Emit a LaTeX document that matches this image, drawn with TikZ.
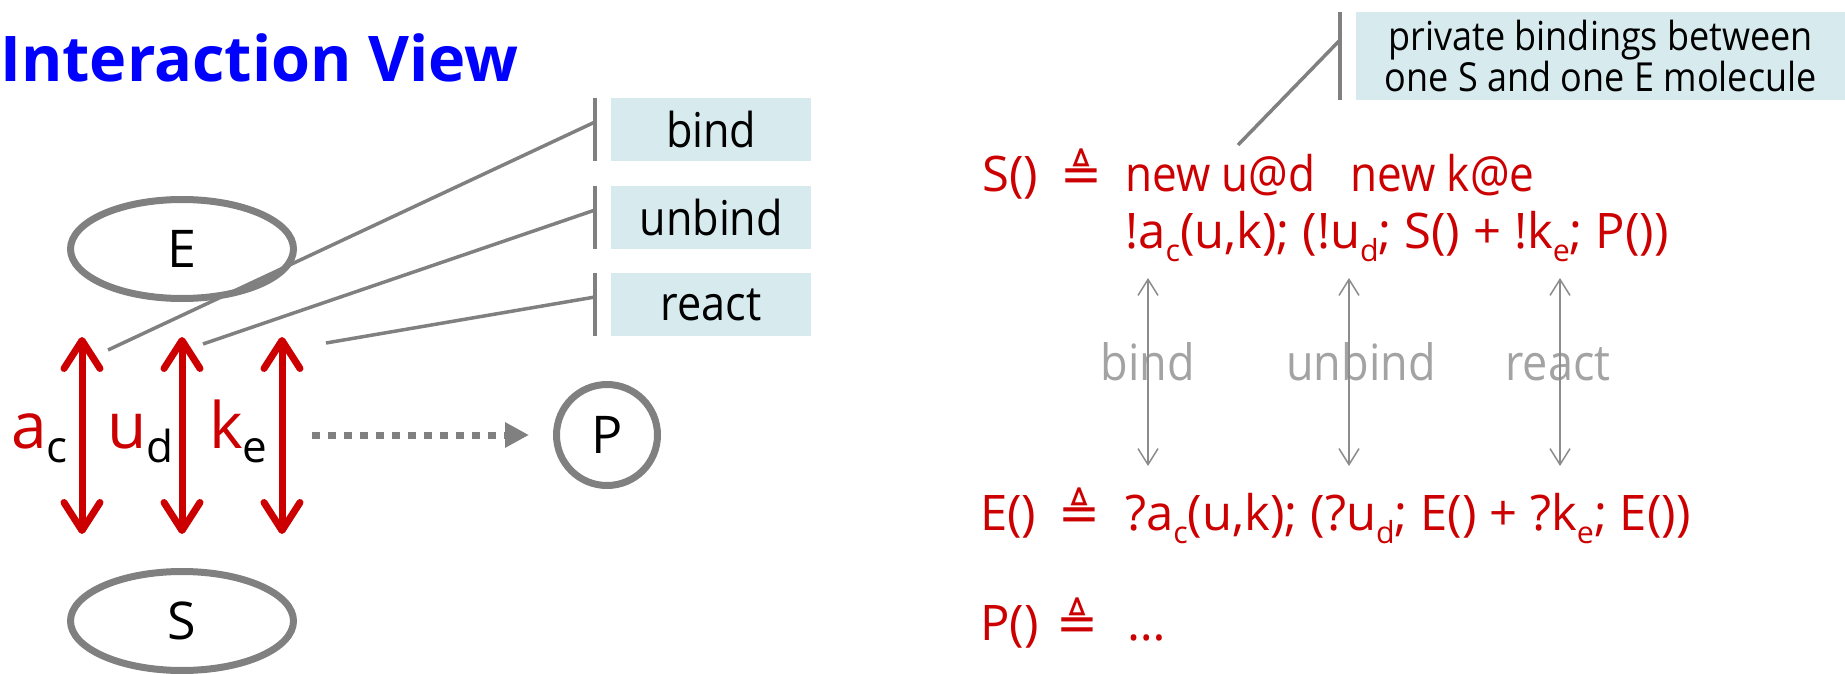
\documentclass[tikz,border=0pt]{standalone}
\usepackage{fontspec}
\usepackage{graphicx}
\setmainfont{Open Sans}
\newfontfamily\symfont{DejaVu Sans}
\newfontfamily\narrowfont[FakeStretch=0.9]{Open Sans}
\usetikzlibrary{arrows.meta,shapes.geometric,calc}
\definecolor{cred}{HTML}{CC0000}
\definecolor{cblue}{HTML}{0000FF}
\definecolor{cgray}{HTML}{808080}
\definecolor{clgray}{HTML}{A3A3A3}
\definecolor{carrow}{HTML}{8C8C8C}
\definecolor{cbox}{HTML}{D7EBEF}
\newcommand\lowr[1]{\raisebox{-0.27em}{\scalebox{0.62}{#1}}}
\newcommand\tdef{{\symfont\fontsize{50}{50}\selectfont ≜}}
\newcommand\chlabel[2]{{\fontsize{64}{64}\selectfont\color{cred}#1}{\fontsize{44}{44}\selectfont\raisebox{-14pt}{\color{black}#2}}}
\begin{document}
\begin{tikzpicture}[x=1pt,y=-1pt,
  mol/.style={ellipse, draw=cgray, line width=7pt, inner sep=0pt, font=\fontsize{52}{52}\selectfont},
  redarrow/.style={draw=cred, line width=7pt,
    {Straight Barb[length=28pt,width=36pt,round]}-{Straight Barb[length=28pt,width=36pt,round]}},
  grayarrow/.style={draw=carrow, line width=1.5pt,
    {Straight Barb[length=16pt,width=20pt]}-{Straight Barb[length=16pt,width=20pt]}},
  callline/.style={draw=cgray, line width=3.5pt},
  calbar/.style={draw=cgray, line width=4pt},
  notebox/.style={fill=cbox, inner sep=0pt, text=black, anchor=north west,
    font=\narrowfont\fontsize{48}{48}\selectfont, minimum width=200pt, minimum height=63pt},
  code/.style={text=cred, inner sep=0pt, anchor=base west, font=\fontsize{49}{49}\selectfont},
  ncode/.style={code, font=\narrowfont\fontsize{49}{49}\selectfont},
  chan/.style={inner sep=0pt, anchor=base west},
  graylabel/.style={text=clgray, inner sep=0pt, anchor=base, font=\narrowfont\fontsize{50}{50}\selectfont}
]
\useasboundingbox (0,0) rectangle (1845,674);

% title
\node[inner sep=0pt, anchor=base west, text=cblue, font=\bfseries\fontsize{63}{63}\selectfont] (title) at (0,82) {Interaction View};

% molecules
\node[mol, minimum width=223pt, minimum height=99pt] (E) at (182,249) {E};
\node[mol, minimum width=223pt, minimum height=99pt] (S) at (182,621) {S};
\node[mol, circle, minimum size=101pt] (P) at (607,435) {P};

% red channels
\coordinate (a1) at (82,337);  \coordinate (a2) at (82,534);
\coordinate (u1) at (182,337); \coordinate (u2) at (182,534);
\coordinate (k1) at (282,337); \coordinate (k2) at (282,534);
\draw[redarrow] (a1) -- (a2);
\draw[redarrow] (u1) -- (u2);
\draw[redarrow] (k1) -- (k2);

\node[chan] (lac) at (11,448) {\chlabel{a}{c}};
\node[chan] (lud) at (107,448) {\chlabel{u}{d}};
\node[chan] (lke) at (209,448) {\chlabel{k}{e}};

% dotted arrow to P
\coordinate (dstart) at (312,435);
\draw[draw=cgray, line width=7pt, dash pattern=on 8pt off 8pt,
  -{Triangle[length=24pt,width=24pt,fill=cgray]}, shorten >=24pt] (dstart) -- (P.west);

% callout boxes left
\node[notebox] (bindbox) at (611,98) {bind};
\node[notebox] (unbindbox) at (611,186) {unbind};
\node[notebox] (reactbox) at (611,273) {react};
\draw[calbar] ($(bindbox.north west)+(-16,0)$) -- ($(bindbox.south west)+(-16,0)$);
\draw[calbar] ($(unbindbox.north west)+(-16,0)$) -- ($(unbindbox.south west)+(-16,0)$);
\draw[calbar] ($(reactbox.north west)+(-16,0)$) -- ($(reactbox.south west)+(-16,0)$);
\coordinate (cb) at (108,350);
\coordinate (cu) at (203,344);
\coordinate (cr) at (326,343);
\draw[callline] (cb) -- ($(bindbox.north west)+(-16,24)$);
\draw[callline] (cu) -- ($(unbindbox.north west)+(-16,24)$);
\draw[callline] (cr) -- ($(reactbox.north west)+(-16,24)$);

% callout box right
\node[fill=cbox, inner sep=0pt, anchor=north west, minimum width=489pt, minimum height=88pt,
  align=center, font=\narrowfont\fontsize{40}{38}\selectfont] (pbox) at (1356,12)
  {private bindings between\\one S and one E molecule};
\draw[calbar] ($(pbox.north west)+(-16,0)$) -- ($(pbox.south west)+(-16,0)$);
\coordinate (cp) at (1238,145);
\draw[callline] (cp) -- ($(pbox.north west)+(-16,28)$);

% code
\node[code] (sdef) at (982,191) {S()};
\node[code] (seq) at (1060,191) {\tdef};
\node[ncode] (snew) at (1125,191) {new u@d};
\node[ncode] (snew2) at (1350,191) {new k@e};
\node[code] (sbody) at (1125,248) {!a\lowr{c}(u,k); (!u\lowr{d}; S() + !k\lowr{e}; P())};

\node[code] (edef) at (980,530) {E()};
\node[code] (eeq) at (1058,530) {\tdef};
\node[code] (ebody) at (1125,530) {?a\lowr{c}(u,k); (?u\lowr{d}; E() + ?k\lowr{e}; E())};

\node[code] (pdef) at (980,640) {P()};
\node[code] (peq) at (1056,640) {\tdef};
\node[code] (pbody) at (1127,640) {…};

% gray interaction arrows
\node[graylabel] (gb) at (1148,380) {bind};
\node[graylabel] (gu) at (1361,380) {unbind};
\node[graylabel] (gr) at (1558,380) {react};
\coordinate (g1a) at (1148,278); \coordinate (g1b) at (1148,466);
\coordinate (g2a) at (1349,278); \coordinate (g2b) at (1349,466);
\coordinate (g3a) at (1560,278); \coordinate (g3b) at (1560,466);
\draw[grayarrow] (g1a) -- (g1b);
\draw[grayarrow] (g2a) -- (g2b);
\draw[grayarrow] (g3a) -- (g3b);
\end{tikzpicture}
\end{document}
